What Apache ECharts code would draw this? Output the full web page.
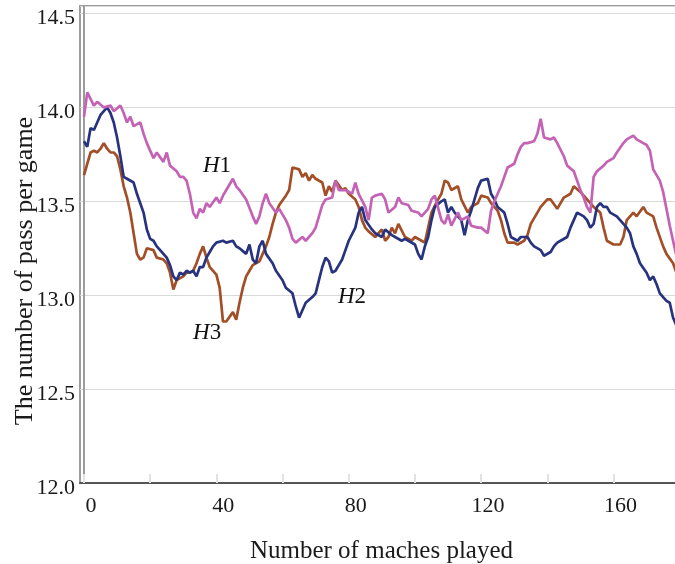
<!DOCTYPE html>
<html>
<head>
<meta charset="utf-8">
<script src="https://cdn.jsdelivr.net/npm/echarts@6/dist/echarts.min.js"></script>
<style>
  html, body { margin: 0; padding: 0; background: #fff; }
  #chart { width: 675px; height: 564px; }
</style>
</head>
<body>
<div id="chart"></div>
<script>
// Running average of passes per game for three teams, [match, passes]
const h1 = [[0,13.95],[1,14.08],[3,14.01],[4,14.03],[6,14.00],[8,14.01],[9,13.98],[11,14.01],[12,13.97],[13,13.92],[14,13.95],[15,13.90],[17,13.92],[18,13.86],[19,13.81],[20,13.77],[21,13.73],[22,13.76],[24,13.71],[25,13.76],[26,13.69],[28,13.66],[29,13.63],[30,13.63],[31,13.61],[32,13.54],[33,13.44],[34,13.41],[35,13.46],[36,13.44],[37,13.49],[38,13.47],[40,13.52],[41,13.49],[42,13.53],[43,13.56],[45,13.62],[46,13.58],[47,13.56],[49,13.51],[51,13.42],[52,13.38],[53,13.42],[54,13.49],[55,13.54],[56,13.49],[58,13.44],[59,13.46],[61,13.40],[62,13.36],[63,13.30],[64,13.28],[66,13.31],[67,13.29],[69,13.33],[70,13.36],[71,13.42],[72,13.48],[73,13.51],[75,13.52],[76,13.61],[77,13.56],[79,13.56],[81,13.54],[82,13.60],[83,13.54],[85,13.47],[86,13.40],[87,13.52],[88,13.53],[90,13.54],[91,13.51],[92,13.44],[94,13.47],[95,13.52],[96,13.49],[98,13.48],[99,13.45],[101,13.44],[102,13.42],[104,13.46],[105,13.51],[106,13.53],[108,13.40],[109,13.38],[110,13.43],[111,13.37],[113,13.44],[114,13.40],[116,13.42],[117,13.37],[119,13.36],[120,13.36],[122,13.33],[123,13.45],[124,13.50],[126,13.58],[127,13.63],[128,13.68],[130,13.70],[131,13.75],[132,13.79],[133,13.81],[134,13.81],[136,13.82],[137,13.86],[138,13.94],[139,13.84],[141,13.83],[142,13.84],[143,13.81],[145,13.74],[146,13.69],[148,13.66],[149,13.61],[150,13.56],[151,13.52],[152,13.47],[153,13.44],[154,13.63],[155,13.66],[157,13.69],[158,13.71],[160,13.73],[161,13.76],[163,13.81],[164,13.83],[166,13.85],[167,13.83],[169,13.81],[170,13.80],[171,13.77],[172,13.67],[174,13.61],[175,13.55],[176,13.46],[177,13.37],[178,13.29],[179,13.21]];

const h2 = [[0,13.82],[1,13.79],[2,13.89],[3,13.88],[4,13.92],[5,13.96],[7,14.00],[8,13.97],[9,13.92],[10,13.84],[11,13.74],[12,13.63],[13,13.62],[15,13.60],[16,13.54],[17,13.49],[18,13.44],[19,13.35],[20,13.30],[21,13.29],[22,13.26],[23,13.24],[24,13.22],[25,13.20],[26,13.16],[27,13.10],[28,13.08],[29,13.12],[30,13.11],[31,13.13],[32,13.12],[33,13.13],[34,13.10],[35,13.15],[36,13.15],[37,13.20],[38,13.23],[39,13.26],[40,13.28],[42,13.29],[43,13.28],[45,13.29],[46,13.26],[47,13.25],[49,13.22],[50,13.27],[51,13.19],[52,13.17],[53,13.26],[54,13.29],[55,13.22],[57,13.17],[58,13.13],[60,13.08],[61,13.04],[63,13.01],[64,12.94],[65,12.88],[66,12.92],[67,12.96],[69,12.99],[70,13.01],[71,13.08],[72,13.15],[73,13.20],[74,13.18],[75,13.12],[76,13.13],[77,13.16],[78,13.19],[79,13.24],[80,13.29],[82,13.36],[83,13.44],[84,13.47],[85,13.40],[87,13.35],[88,13.33],[90,13.31],[91,13.35],[93,13.32],[94,13.31],[96,13.29],[97,13.30],[98,13.29],[100,13.27],[101,13.22],[102,13.19],[103,13.26],[104,13.31],[105,13.40],[106,13.47],[108,13.50],[109,13.51],[110,13.44],[111,13.47],[112,13.44],[114,13.40],[115,13.32],[116,13.40],[117,13.45],[118,13.51],[119,13.57],[120,13.61],[122,13.62],[123,13.54],[124,13.51],[125,13.47],[127,13.44],[128,13.38],[129,13.31],[131,13.29],[132,13.31],[134,13.31],[135,13.28],[136,13.26],[138,13.24],[139,13.21],[141,13.23],[142,13.26],[143,13.28],[144,13.29],[146,13.31],[147,13.36],[148,13.40],[149,13.44],[151,13.42],[152,13.40],[153,13.36],[154,13.38],[155,13.47],[156,13.49],[157,13.47],[158,13.47],[159,13.44],[161,13.42],[162,13.40],[164,13.36],[165,13.33],[166,13.26],[167,13.22],[168,13.17],[170,13.12],[171,13.08],[172,13.10],[173,13.06],[174,13.01],[176,12.97],[177,12.96],[178,12.88],[179,12.84]];

const h3 = [[0,13.64],[1,13.70],[2,13.76],[3,13.77],[4,13.76],[5,13.78],[6,13.81],[7,13.78],[8,13.76],[9,13.76],[10,13.74],[11,13.67],[12,13.58],[13,13.52],[14,13.44],[15,13.33],[16,13.22],[17,13.19],[18,13.20],[19,13.25],[21,13.24],[22,13.20],[24,13.19],[25,13.17],[26,13.12],[27,13.03],[28,13.08],[30,13.10],[31,13.12],[32,13.12],[33,13.13],[34,13.17],[35,13.22],[36,13.26],[37,13.20],[38,13.15],[40,13.11],[41,13.04],[42,12.86],[43,12.86],[45,12.91],[46,12.87],[47,12.96],[48,13.04],[49,13.10],[50,13.13],[51,13.16],[53,13.18],[54,13.22],[55,13.26],[56,13.31],[57,13.38],[58,13.44],[59,13.48],[61,13.53],[62,13.56],[63,13.68],[65,13.67],[66,13.63],[67,13.65],[68,13.61],[69,13.64],[70,13.62],[72,13.60],[73,13.53],[74,13.58],[75,13.55],[76,13.61],[78,13.56],[79,13.57],[80,13.54],[82,13.51],[83,13.47],[84,13.40],[85,13.36],[86,13.34],[88,13.31],[90,13.35],[91,13.29],[92,13.31],[93,13.36],[94,13.33],[95,13.38],[97,13.31],[99,13.29],[100,13.31],[102,13.29],[103,13.28],[104,13.36],[105,13.44],[107,13.51],[108,13.54],[109,13.61],[110,13.60],[111,13.56],[113,13.58],[114,13.51],[116,13.44],[117,13.47],[119,13.49],[120,13.53],[122,13.52],[123,13.49],[125,13.45],[126,13.40],[127,13.33],[128,13.28],[130,13.28],[131,13.27],[133,13.29],[134,13.32],[135,13.38],[137,13.44],[138,13.47],[140,13.51],[141,13.51],[143,13.46],[144,13.49],[145,13.52],[147,13.54],[148,13.58],[150,13.55],[151,13.53],[153,13.49],[154,13.47],[156,13.44],[157,13.36],[158,13.29],[160,13.27],[162,13.27],[163,13.31],[164,13.40],[166,13.44],[167,13.42],[169,13.47],[170,13.44],[172,13.42],[173,13.36],[175,13.26],[176,13.22],[178,13.17],[179,13.12]];

// Curve tags placed next to their lines: [match, passes, index]
const curveTags = [[40.2, 13.69, '1'], [81, 12.99, '2'], [37.2, 12.80, '3']];

const xLabelTicks = [0, 40, 80, 120, 160];
const xMinorTicks = [0, 20, 40, 60, 80, 100, 120, 140, 160, 180];

const serif = 'Liberation Serif, Times New Roman, serif';
const chart = echarts.init(document.getElementById('chart'));

chart.setOption({
  animation: false,
  backgroundColor: '#fff',
  grid: {
    // the frame runs a little past the right edge of the page
    left: 80, width: 603, top: 6, bottom: 81,
    outerBoundsMode: 'none',
    show: true, borderColor: '#9c9c9c', borderWidth: 2, backgroundColor: 'transparent'
  },
  xAxis: {
    type: 'value',
    min: -1.2, max: 181,
    name: 'Number of maches played',
    nameLocation: 'middle',
    nameGap: 56,
    nameTextStyle: { fontFamily: serif, fontSize: 25, color: '#1a1a1a' },
    axisLine: { show: true, lineStyle: { color: '#555', width: 2 } },
    axisTick: { show: true, inside: true, length: 9, customValues: xMinorTicks,
                lineStyle: { color: '#e2e2e2', width: 2 } },
    axisLabel: { customValues: xLabelTicks, fontFamily: serif, fontSize: 22,
                 color: '#1a1a1a', margin: 12, padding: [0, 0, 0, 14] },
    splitLine: { show: false }
  },
  yAxis: {
    type: 'value',
    min: 12, max: 14.54, interval: 0.5,
    axisLine: { show: true, lineStyle: { color: '#9c9c9c', width: 2 } },
    axisTick: { show: false },
    axisLabel: {
      fontFamily: serif, fontSize: 22, color: '#1a1a1a', margin: 5,
      verticalAlign: 'top', lineHeight: 10,
      formatter: v => (Math.abs(v * 2 - Math.round(v * 2)) < 1e-6 ? v.toFixed(1) : '')
    },
    splitLine: { show: true, lineStyle: { color: '#d9d9d9', width: 1 } }
  },
  graphic: [{
    type: 'text',
    x: 25, y: 271,
    rotation: Math.PI / 2,
    style: {
      text: 'The number of pass per game',
      font: '26px ' + serif,
      fill: '#1a1a1a',
      textAlign: 'center',
      textVerticalAlign: 'middle'
    }
  }],
  series: [
    { type: 'line', name: 'H3', data: h3, symbol: 'none',
      lineStyle: { color: '#a24f27', width: 2.7 } },
    { type: 'line', name: 'H2', data: h2, symbol: 'none',
      lineStyle: { color: '#28337f', width: 2.7 } },
    { type: 'line', name: 'H1', data: h1, symbol: 'none',
      lineStyle: { color: '#c463b6', width: 2.7 } },
    {
      type: 'scatter',
      data: curveTags,
      symbolSize: 0,
      itemStyle: { color: '#111' },
      silent: true,
      label: {
        show: true, position: [0, 0], align: 'center', verticalAlign: 'middle',
        color: '#111', opacity: 1, textBorderWidth: 0,
        formatter: p => '{i|H}{n|' + p.value[2] + '}',
        rich: {
          i: { fontFamily: serif, fontStyle: 'italic', fontSize: 23, color: '#111', textBorderWidth: 0 },
          n: { fontFamily: serif, fontSize: 23, color: '#111', textBorderWidth: 0 }
        }
      }
    }
  ]
});
</script>
</body>
</html>
